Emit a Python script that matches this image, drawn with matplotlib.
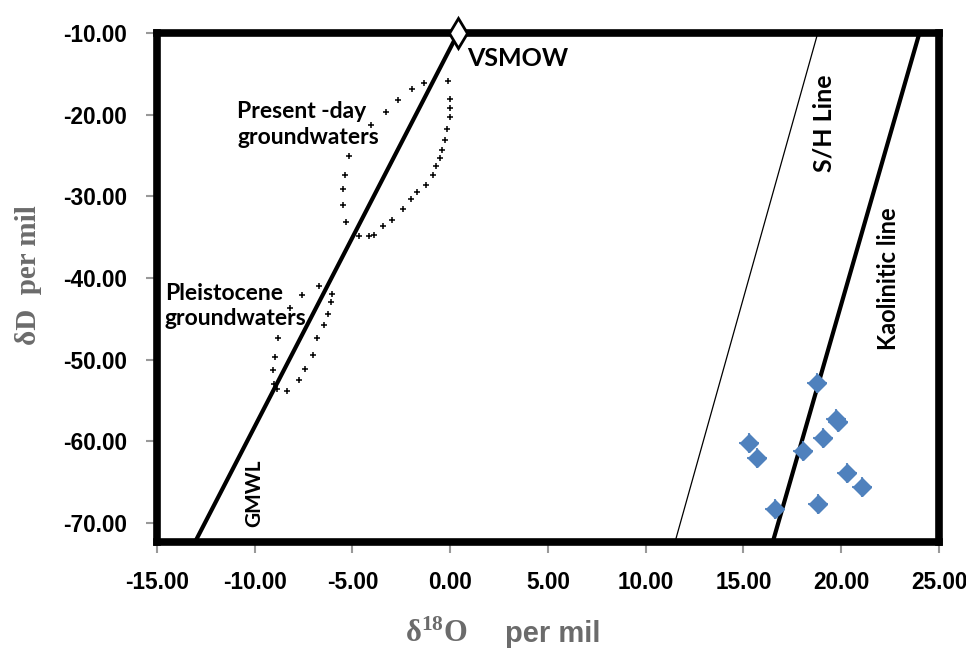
import matplotlib.pyplot as plt

plt.rcParams['mathtext.fontset'] = 'custom'
plt.rcParams['mathtext.rm'] = 'Liberation Serif'
plt.rcParams['mathtext.bf'] = 'Liberation Serif:bold'

# Lines (end points)
gmwl_x = [-13.05, 0.4]
gmwl_y = [-72.3, -10.0]
sh_x = [11.5, 18.8]
sh_y = [-72.3, -10.0]
kaol_x = [16.5, 24.0]
kaol_y = [-72.3, -10.0]

vsmow_x = [0.4]
vsmow_y = [-10.0]

# Samples
sample_x = [18.74, 19.72, 19.85, 19.05, 18.03, 15.26, 15.67, 20.28, 21.05, 18.79, 16.59]
sample_y = [-52.8, -57.2, -57.6, -59.6, -61.2, -60.2, -62.0, -63.9, -65.6, -67.7, -68.3]

# Present-day groundwater envelope
present_x = [-0.11, -1.34, -1.94, -2.66, -3.27, -4.04, -5.19, -5.39, -5.48, -5.48,
             -5.31, -4.68, -4.16, -3.91, -3.44, -3.0, -2.40, -1.99, -1.68, -1.26,
             -0.88, -0.71, -0.54, -0.40, -0.28, -0.18, -0.01, -0.01, -0.01]
present_y = [-15.85, -16.1, -16.9, -18.2, -19.6, -21.3, -25.1, -27.4, -29.1, -31.1,
             -33.1, -34.8, -34.8, -34.7, -33.6, -32.9, -31.5, -30.3, -29.5, -28.6,
             -27.4, -26.3, -25.3, -24.3, -23.1, -21.8, -20.3, -19.2, -18.1]

# Pleistocene groundwater envelope
pleist_x = [-6.69, -6.04, -6.08, -6.25, -6.44, -6.81, -7.04, -7.41, -7.75, -8.35,
            -8.86, -9.0, -9.07, -8.98, -8.81, -8.22, -7.58]
pleist_y = [-41.0, -41.9, -42.9, -44.4, -45.8, -47.3, -49.4, -51.1, -52.5, -53.8,
            -53.6, -53.0, -51.3, -49.6, -47.3, -43.7, -42.1]

xticks = [-15, -10, -5, 0, 5, 10, 15, 20, 25]
yticks = [-10, -20, -30, -40, -50, -60, -70]

fig = plt.figure(figsize=(9.66, 6.49), dpi=100)
ax = fig.add_axes([0.1625, 0.165, 0.8095, 0.784])

ax.plot(gmwl_x, gmwl_y, color='black', lw=3)
ax.plot(sh_x, sh_y, color='black', lw=0.9)
ax.plot(kaol_x, kaol_y, color='black', lw=3)

ax.plot(present_x, present_y, '+', color='black', ms=4.5, mew=1.1)
ax.plot(pleist_x, pleist_y, '+', color='black', ms=4.5, mew=1.1)

blue = '#4F81BD'
ax.plot(sample_x, sample_y, '+', color=blue, ms=15, mew=1.5, alpha=0.9)
ax.plot(sample_x, sample_y, 'D', color=blue, ms=9, mec=blue)

ax.plot(vsmow_x, vsmow_y, 'd', ms=15, mfc='white', mec='black', mew=2,
        clip_on=False, zorder=10)

tf = dict(family='Lato', weight='bold', color='black')
ax.text(0.85, -13.1, 'VSMOW', fontsize=18, va='center', ha='left', **tf)
ax.text(-10.9, -21.2, 'Present -day\ngroundwaters', fontsize=16.5, va='center',
        ha='left', linespacing=1.25, **tf)
ax.text(-14.6, -43.4, 'Pleistocene\ngroundwaters', fontsize=16.5, va='center',
        ha='left', linespacing=1.2, **tf)
ax.text(-10.0, -66.4, 'GMWL', fontsize=15, rotation=90, va='center', ha='center', **tf)
ax.text(19.1, -21.0, 'S/H Line', fontsize=18, rotation=90, va='center', ha='center', **tf)
ax.text(22.4, -40.1, 'Kaolinitic line', fontsize=17, rotation=90, va='center',
        ha='center', **tf)

ax.set_xlim(-15, 25)
ax.set_ylim(-72.3, -10)
ax.set_xticks(xticks)
ax.set_yticks(yticks)
ax.set_xticklabels(['%.2f' % v for v in xticks])
ax.set_yticklabels(['%.2f' % v for v in yticks])
for lab in ax.get_xticklabels() + ax.get_yticklabels():
    lab.set_family('Liberation Sans')
    lab.set_weight('bold')
    lab.set_fontsize(16.3)
ax.tick_params(axis='both', direction='out', length=8, width=1.5, color='#999999')
ax.tick_params(axis='x', pad=13)
ax.tick_params(axis='y', pad=13.5)

for sp in ax.spines.values():
    sp.set_linewidth(5.5)
    sp.set_color('black')

grey = '#6b6b6b'
# axis titles placed by hand, as in the original figure
fig.text(29 / 966, 1 - 275 / 649, 'δD  per mil', family='Liberation Serif',
         weight='bold', fontsize=21, color=grey, rotation=90, ha='center', va='center')
fig.text(405 / 966, 1 - 642 / 649, r'$\mathbf{δ^{18}O}$', fontsize=22, color=grey,
         ha='left', va='baseline')
fig.text(505 / 966, 1 - 642 / 649, 'per mil', family='Liberation Sans', weight='bold',
         fontsize=21, color=grey, ha='left', va='baseline')

fig.savefig('out.png', dpi=100)
